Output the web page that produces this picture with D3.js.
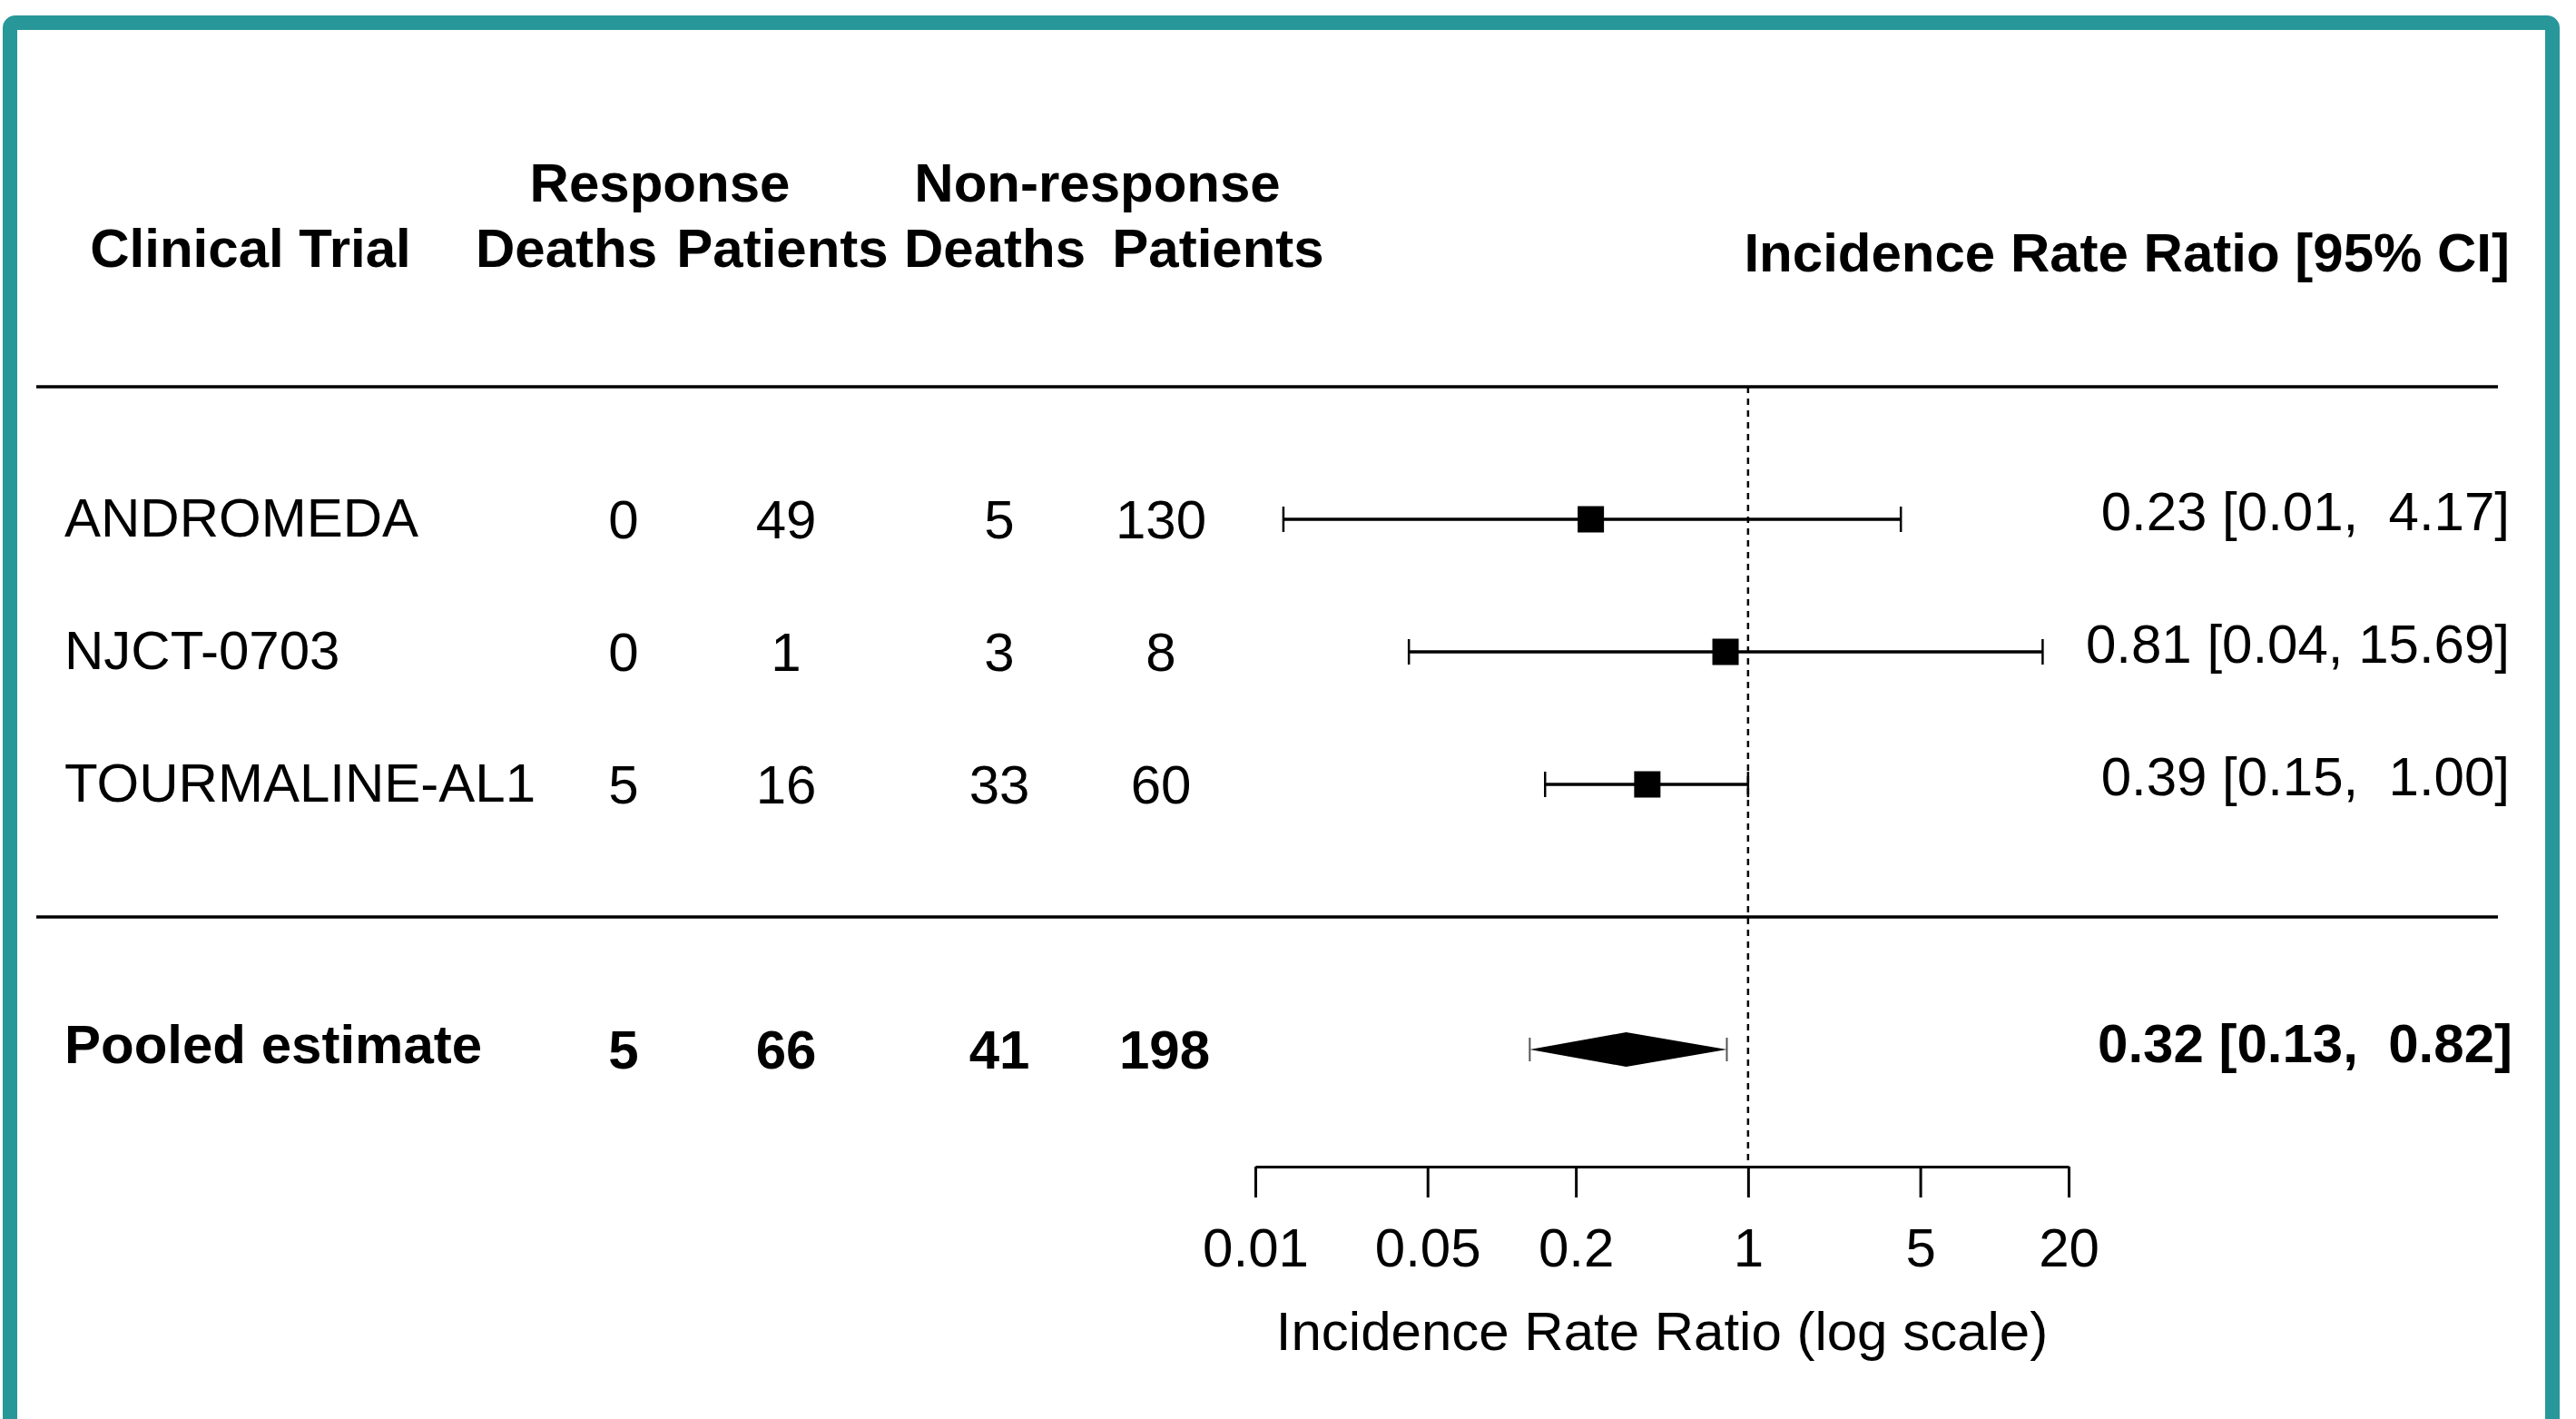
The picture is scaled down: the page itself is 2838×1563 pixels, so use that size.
<!DOCTYPE html>
<html>
<head>
<meta charset="utf-8">
<script src="https://cdn.jsdelivr.net/npm/d3@7"></script>
<style>
    body { margin: 0; background: #ffffff; }
    svg { display: block; font-family: "Liberation Sans", Arial, sans-serif; }
    text { white-space: pre; fill: #000; }
    .hdr { font-weight: bold; font-size: 60px; }
    .cell { font-size: 60px; }
    .bold { font-weight: bold; }
    .axis text { font-size: 60px; font-family: "Liberation Sans", Arial, sans-serif; }
</style>
</head>
<body>
<script>
// data
const trials = ["ANDROMEDA", "NJCT-0703", "TOURMALINE-AL1"];
const respDeaths = [0, 0, 5];
const respPatients = [49, 1, 16];
const nonDeaths = [5, 3, 33];
const nonPatients = [130, 8, 60];
const irr = [0.23, 0.81, 0.39];
const ciLow = [0.013, 0.042, 0.15];
const ciHigh = [4.17, 15.69, 1.00];

const pooledLabel = "Pooled estimate";
const pooledTotals = [5, 66, 41, 198];
const pooledIrr = 0.32, pooledLow = 0.13, pooledHigh = 0.82;

const tickValues = [0.01, 0.05, 0.2, 1, 5, 20];
const xTitle = "Incidence Rate Ratio (log scale)";
const rightTitle = "Incidence Rate Ratio [95% CI]";

const width = 2838, height = 1563;

const svg = d3.select("body").append("svg")
    .attr("width", width)
    .attr("height", height);

// teal frame (open at bottom, runs off the picture)
svg.append("rect")
    .attr("x", 11).attr("y", 25)
    .attr("width", 2801).attr("height", 1700)
    .attr("rx", 6)
    .attr("fill", "none")
    .attr("stroke", "#28979a")
    .attr("stroke-width", 16);

// scales
const x = d3.scaleLog().domain([0.01, 20]).range([1383, 2279]);
const y = d3.scaleLinear().domain([0, 4]).range([1010, 426]);   // one unit per row
const rows = trials.map((d, i) => trials.length - i);            // 3,2,1
const pooledRow = -1;
const axisY = 1285;

// column centres for the count columns
const colX = [687, 866, 1101, 1279];
const rightX = 2765;

// headers
const hdr = svg.append("g").attr("class", "hdr");
hdr.append("text").attr("x", 276).attr("y", 273).attr("dy", "0.35em")
    .attr("text-anchor", "middle").text("Clinical Trial");
hdr.append("text").attr("x", 727).attr("y", 201).attr("dy", "0.35em")
    .attr("text-anchor", "middle").text("Response");
hdr.append("text").attr("x", 1209).attr("y", 201).attr("dy", "0.35em")
    .attr("text-anchor", "middle").text("Non-response");
[["Deaths", 624], ["Patients", 862], ["Deaths", 1096], ["Patients", 1342]].forEach(h => {
    hdr.append("text").attr("x", h[1]).attr("y", 273).attr("dy", "0.35em")
        .attr("text-anchor", "middle").text(h[0]);
});
hdr.append("text").attr("x", rightX).attr("y", 278).attr("dy", "0.35em")
    .attr("text-anchor", "end").text(rightTitle);

// horizontal rules
svg.selectAll("line.rule")
    .data([4, 0])
    .join("line")
    .attr("class", "rule")
    .attr("x1", 40).attr("x2", 2752)
    .attr("y1", d => y(d)).attr("y2", d => y(d))
    .attr("stroke", "#000").attr("stroke-width", 3.5);

// reference line at 1
svg.append("line")
    .attr("x1", x(1)).attr("x2", x(1))
    .attr("y1", y(4)).attr("y2", axisY)
    .attr("stroke", "#000").attr("stroke-width", 2.5)
    .attr("stroke-dasharray", "7,6");

const fmt = v => v.toFixed(2);
const ciText = (e, lo, hi) => `${fmt(e)} [${fmt(lo)}, ${fmt(hi).padStart(5)}]`;

// study rows
const study = svg.append("g").selectAll("g")
    .data(trials.map((t, i) => ({
        name: t, row: rows[i],
        counts: [respDeaths[i], respPatients[i], nonDeaths[i], nonPatients[i]],
        est: irr[i], lo: ciLow[i], hi: ciHigh[i]
    })))
    .join("g");

study.append("text").attr("class", "cell")
    .attr("x", 71).attr("y", d => y(d.row) - 2).attr("dy", "0.35em")
    .text(d => d.name);

study.each(function (d) {
    d3.select(this).selectAll("text.num")
        .data(d.counts)
        .join("text")
        .attr("class", "cell num")
        .attr("x", (c, j) => colX[j])
        .attr("y", y(d.row)).attr("dy", "0.35em")
        .attr("text-anchor", "middle")
        .text(c => c);
});

study.append("line")
    .attr("x1", d => x(d.lo)).attr("x2", d => x(d.hi))
    .attr("y1", d => y(d.row)).attr("y2", d => y(d.row))
    .attr("stroke", "#000").attr("stroke-width", 3.5);
["lo", "hi"].forEach(k => {
    study.append("line")
        .attr("x1", d => x(d[k])).attr("x2", d => x(d[k]))
        .attr("y1", d => y(d.row) - 14).attr("y2", d => y(d.row) + 14)
        .attr("stroke", "#000").attr("stroke-width", 2.5);
});
study.append("rect")
    .attr("x", d => x(d.est) - 14.5).attr("y", d => y(d.row) - 14.5)
    .attr("width", 29).attr("height", 29)
    .attr("fill", "#000");

study.append("text").attr("class", "cell")
    .attr("x", rightX).attr("y", d => y(d.row) - 9).attr("dy", "0.35em")
    .attr("text-anchor", "end")
    .text(d => ciText(d.est, d.lo, d.hi));

// pooled row
const py = y(pooledRow);
const pooled = svg.append("g").attr("class", "cell bold");
pooled.append("text").attr("x", 71).attr("y", py - 6).attr("dy", "0.35em").text(pooledLabel);
pooled.selectAll("text.num")
    .data(pooledTotals)
    .join("text")
    .attr("class", "num")
    .attr("x", (c, j) => colX[j] + (j === 3 ? 4 : 0))
    .attr("y", py).attr("dy", "0.35em")
    .attr("text-anchor", "middle")
    .text(c => c);
pooled.append("text").attr("x", rightX + 3).attr("y", py - 7).attr("dy", "0.35em")
    .attr("text-anchor", "end")
    .text(ciText(pooledIrr, pooledLow, pooledHigh));

[pooledLow, pooledHigh].forEach(v => {
    svg.append("line")
        .attr("x1", x(v)).attr("x2", x(v))
        .attr("y1", py - 13).attr("y2", py + 13)
        .attr("stroke", "#555").attr("stroke-width", 2);
});
svg.append("polygon")
    .attr("points", [
        [x(pooledLow), py], [x(pooledIrr), py - 19],
        [x(pooledHigh), py], [x(pooledIrr), py + 19]
    ].map(p => p.join(",")).join(" "))
    .attr("fill", "#000");

// axis
const axis = svg.append("g")
    .attr("class", "axis")
    .attr("transform", `translate(0,${axisY})`)
    .call(d3.axisBottom(x)
        .tickValues(tickValues)
        .tickFormat(d => String(d))
        .tickSize(34)
        .tickSizeOuter(0)
        .tickPadding(33));
axis.select(".domain").attr("stroke", "#000").attr("stroke-width", 3);
axis.selectAll(".tick line").attr("stroke", "#000").attr("stroke-width", 3);
axis.selectAll(".tick text").attr("fill", "#000");

svg.append("text").attr("class", "cell")
    .attr("x", (x.range()[0] + x.range()[1]) / 2)
    .attr("y", 1466).attr("dy", "0.35em")
    .attr("text-anchor", "middle")
    .text(xTitle);
</script>
</body>
</html>
